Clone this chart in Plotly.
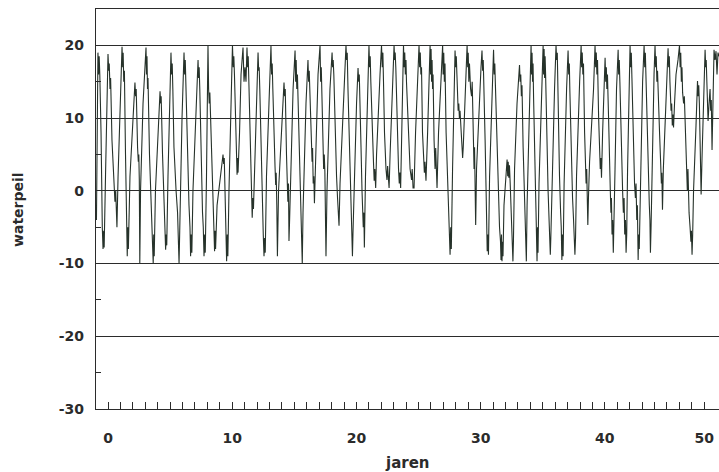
import plotly.graph_objects as go

# Water level (waterpeil) readings over the years (jaren).
jaren = [
    -0.93, -0.86, -0.81, -0.76, -0.71, -0.66, -0.56, -0.46, -0.40, -0.35, -0.31, -0.20,
    -0.08, 0.00, 0.06, 0.10, 0.16, 0.21, 0.32, 0.48, 0.56, 0.62, 0.72, 0.81,
    1.01, 1.13, 1.18, 1.22, 1.27, 1.32, 1.41, 1.49, 1.55, 1.59, 1.64, 1.77,
    2.01, 2.17, 2.22, 2.27, 2.38, 2.44, 2.48, 2.52, 2.56, 2.62,
    2.82, 2.98, 3.06, 3.10, 3.14, 3.18, 3.22, 3.34, 3.46, 3.54, 3.59, 3.64, 3.68, 3.72, 3.82,
    4.03, 4.19, 4.24, 4.28, 4.39, 4.51, 4.59, 4.64, 4.69, 4.73, 4.83,
    4.99, 5.07, 5.12, 5.17, 5.22, 5.31, 5.48, 5.60, 5.72, 5.80,
    5.96, 6.12, 6.17, 6.22, 6.26, 6.36, 6.52, 6.60, 6.65, 6.70, 6.75, 6.84,
    7.09, 7.25, 7.29, 7.34, 7.39, 7.49, 7.61, 7.67, 7.73, 7.78, 7.83, 7.93,
    8.05, 8.10, 8.15, 8.20, 8.25, 8.37, 8.49, 8.58, 8.62, 8.66, 8.78,
    9.02, 9.18, 9.26, 9.31, 9.36, 9.42, 9.50, 9.55, 9.60, 9.65, 9.74,
    9.90, 10.02, 10.08, 10.13, 10.18, 10.27, 10.35, 10.39, 10.43, 10.47, 10.59,
    10.71, 10.87, 10.95, 11.03, 11.11, 11.19, 11.24, 11.29, 11.34, 11.43, 11.51, 11.56, 11.61, 11.66, 11.71, 11.84,
    12.00, 12.08, 12.13, 12.17, 12.22, 12.32, 12.44, 12.50, 12.56, 12.61, 12.66, 12.76,
    12.96, 13.12, 13.17, 13.22, 13.27, 13.37, 13.45, 13.50, 13.54, 13.59, 13.64, 13.73,
    14.01, 14.17, 14.22, 14.27, 14.37, 14.43, 14.48, 14.53, 14.57, 14.62, 14.69,
    14.90, 15.06, 15.11, 15.15, 15.20, 15.25, 15.38, 15.50, 15.58, 15.64, 15.70,
    15.94, 16.10, 16.15, 16.20, 16.25, 16.34, 16.43, 16.47, 16.52, 16.57, 16.62, 16.71,
    16.91, 17.07, 17.12, 17.17, 17.21, 17.31, 17.36, 17.41, 17.46, 17.55, 17.63,
    17.87, 18.04, 18.08, 18.13, 18.18, 18.28, 18.40, 18.48, 18.54, 18.60, 18.68,
    19.00, 19.16, 19.21, 19.26, 19.32, 19.45, 19.53, 19.59, 19.63, 19.68, 19.72, 19.81,
    20.01, 20.13, 20.18, 20.23, 20.27, 20.37, 20.45, 20.50, 20.55, 20.60, 20.64, 20.73,
    20.89, 21.01, 21.06, 21.11, 21.16, 21.26, 21.38, 21.43, 21.48, 21.55, 21.62,
    21.90, 22.02, 22.08, 22.13, 22.18, 22.26, 22.38, 22.46, 22.51, 22.57, 22.63, 22.71,
    22.91, 23.03, 23.08, 23.12, 23.17, 23.27, 23.39, 23.45, 23.50, 23.56, 23.67,
    23.79, 23.84, 23.89, 23.94, 23.99, 24.03, 24.16, 24.32, 24.44, 24.49, 24.56, 24.64, 24.76,
    24.96, 25.04, 25.09, 25.14, 25.19, 25.24, 25.32, 25.40, 25.47, 25.52, 25.60, 25.73,
    25.85, 25.93, 25.97, 26.01, 26.05, 26.09, 26.13, 26.17, 26.25, 26.33, 26.38, 26.43, 26.49, 26.61,
    26.81, 26.94, 26.98, 27.03, 27.08, 27.13, 27.22, 27.34, 27.42, 27.48, 27.54, 27.59, 27.64, 27.74,
    27.86, 27.94, 27.99, 28.04, 28.09, 28.14, 28.19, 28.24, 28.29, 28.34, 28.42, 28.50, 28.55, 28.60, 28.71,
    28.83, 28.91, 28.96, 29.00, 29.05, 29.10, 29.19, 29.27, 29.32, 29.37, 29.43, 29.47, 29.51, 29.55, 29.60, 29.67,
    29.87, 30.03, 30.11, 30.16, 30.21, 30.26, 30.36, 30.44, 30.48, 30.53, 30.58, 30.63, 30.72,
    30.92, 31.04, 31.09, 31.14, 31.19, 31.28, 31.40, 31.52, 31.60, 31.64, 31.68, 31.72, 31.76, 31.80, 31.88,
    32.01, 32.13, 32.18, 32.22, 32.27, 32.32, 32.38, 32.45, 32.50, 32.55, 32.60, 32.64, 32.73,
    32.93, 33.13, 33.18, 33.23, 33.28, 33.33, 33.42, 33.54, 33.62, 33.68, 33.74,
    33.94, 34.06, 34.10, 34.14, 34.18, 34.22, 34.26, 34.32, 34.42, 34.46, 34.50, 34.54, 34.58, 34.62, 34.70,
    34.91, 35.03, 35.07, 35.11, 35.15, 35.19, 35.23, 35.31, 35.43, 35.51, 35.56, 35.61, 35.65, 35.75,
    35.95, 36.07, 36.12, 36.17, 36.23, 36.35, 36.44, 36.49, 36.54, 36.59, 36.64, 36.72,
    36.92, 37.04, 37.09, 37.14, 37.18, 37.28, 37.40, 37.48, 37.54, 37.59, 37.64, 37.72,
    37.97, 38.09, 38.13, 38.18, 38.23, 38.28, 38.37, 38.49, 38.54, 38.59, 38.63, 38.68, 38.77,
    39.09, 39.21, 39.26, 39.31, 39.36, 39.41, 39.50, 39.58, 39.63, 39.68, 39.73, 39.82,
    39.94, 40.02, 40.07, 40.12, 40.16, 40.21, 40.30, 40.38, 40.44, 40.49, 40.53, 40.58, 40.63, 40.68, 40.73, 40.82,
    40.94, 41.07, 41.11, 41.16, 41.21, 41.31, 41.43, 41.49, 41.55, 41.60, 41.66, 41.71, 41.76, 41.83,
    41.95, 42.03, 42.08, 42.13, 42.18, 42.27, 42.39, 42.46, 42.51, 42.57, 42.62, 42.68, 42.72, 42.77, 42.88,
    43.04, 43.16, 43.21, 43.26, 43.30, 43.40, 43.52, 43.58, 43.63, 43.67, 43.72, 43.80,
    43.96, 44.04, 44.09, 44.14, 44.19, 44.24, 44.33, 44.41, 44.49, 44.55, 44.59, 44.64, 44.71,
    44.97, 45.09, 45.14, 45.19, 45.24, 45.33, 45.38, 45.43, 45.48, 45.53, 45.61,
    45.73, 45.89, 46.01, 46.06, 46.11, 46.16, 46.21, 46.26, 46.34, 46.40, 46.50, 46.58, 46.64, 46.69, 46.73, 46.78, 46.86, 46.93, 46.97, 47.02, 47.07, 47.14,
    47.34, 47.46, 47.51, 47.56, 47.61, 47.67, 47.75, 47.83,
    47.95, 48.07, 48.12, 48.16, 48.23, 48.31, 48.39, 48.47, 48.52, 48.57, 48.63, 48.71, 48.79, 48.87, 48.95, 49.03, 49.11, 49.18,
]

waterpeil = [
    -4, 17, 19, 16, 18.5, 16, 8, -5, -8, -5.5, -7.8, 2,
    15, 18.8, 16.5, 17.5, 14, 15.5, 7, 0, -1.5, 0, -5, 2,
    13, 19.8, 17, 19, 15, 16.5, 5, -4, -9, -5, -8, 2,
    10, 14.9, 13, 14, 6, 4, 5, 1.5, -10, 0,
    12, 17, 19.7, 16, 18.5, 14, 15.5, 5, -1, -4, -8, -10, -6, -9, 0,
    9, 13.7, 12, 13, 5, -2, -5, -8.1, -6, -7.5, 2,
    14, 19, 16, 17.5, 14, 6, 0, -3, -10, -2,
    10, 19, 16, 18, 15, 6, -2, -5, -9, -6, -8.5, 0,
    12, 18, 15.5, 17, 14, 5, -3, -5, -9, -6, -8.5, 2,
    20, 14, 12, 13.5, 11, 3, -4, -8.3, -5.5, -8, -2,
    2, 4, 5, 3.7, 4.5, 0, -6, -9.7, -6, -9, 0,
    14, 20, 17, 18.5, 16, 8, 4, 2.2, 4.5, 2.5, 8,
    16, 19.7, 15, 17, 15, 19.7, 17, 18.5, 15, 6, 0, -2, -3.7, -1, -2.5, 5,
    14, 19, 16.5, 17, 14, 5, -3, -6, -9, -6.5, -8.5, 2,
    12, 19.9, 16, 17.5, 14, 6, 3.2, 0.8, 2.5, -2, -9, 0,
    10, 14.9, 13, 14, 5, 1.8, -1.5, 1, -6.9, -4, 1,
    14, 19.3, 15, 18, 14, 16, 6, -2, -6, -10, -3,
    12, 18, 15, 16.5, 14, 8, 4, 5.9, 1, 2, -1.7, 5,
    16, 20, 15, 17, 14.5, 6, 3, 5, 2.7, -9, 0,
    14, 19, 17, 18, 16, 8, 2, -1, -3, -4.8, 1,
    15, 20, 18, 19, 14, 5, -2, -5, -7.5, -9, -6, 1,
    12, 16.9, 15, 16, 13.9, 6, 0, -2, -5, -3, -7.8, 2,
    14, 20, 17, 18.5, 15, 8, 3.6, 1.4, 3, 0.4, 5,
    16, 20, 17, 19, 15, 8, 3, 1.5, 3.4, 0.8, 0.4, 5,
    16, 20, 18, 19, 17, 9, 3, 1, 2.5, 0.4, 10,
    20, 17, 19, 16, 18, 15, 9, 3, 1.5, 3, 0.4, 0.4, 8,
    17, 20, 17, 19, 16, 17, 8, 5, 2.5, 4, 1.4, 8,
    16, 20, 16, 19.5, 15, 18, 14, 16, 7, 3, 5.9, 2, 0.4, 8,
    16, 20, 16, 19, 15, 17.5, 8, 1, -3, -6, -8.8, -5, -8, 3,
    15, 19.3, 17, 18.5, 16, 12.4, 11, 12, 10, 11, 8, 5.5, 4.5, 6, 12,
    17, 20, 17, 19, 15, 17.5, 14, 13, 15, 12, 7, 3, 6, 2, -4.7, 3,
    12, 17, 19.3, 16.5, 18, 15, 7, 0, -4, -8.3, -6, -8.8, 2,
    15, 19.4, 16, 17.5, 14.5, 8, 0, -5, -7, -9.5, -6, -9.7, -7, -9, -2,
    2, 4.3, 2, 4, 1.8, 3.5, 1, -3, -6, -8, -9.7, -7, 3,
    12, 17.3, 15, 16, 13, 14.5, 6, -1, -5, -9.7, -2,
    14, 20, 16, 19, 15, 17.5, 13, 6, 0, -3, -6, -9.7, -5, -8.5, 1,
    15, 20, 16, 19.5, 15.5, 18.5, 16, 8, 0, -4, -6, -8.8, -6.5, 2,
    14, 20, 18, 19, 12, 2, -3, -5, -9.5, -6, -9, 1,
    14, 19.3, 16, 17.5, 14, 6, -1, -4, -6, -8.8, -6.5, 2,
    15, 20, 17, 19, 16, 17.5, 8, 1, 3, -1, -4.7, -1, 4,
    14, 20, 17, 19, 16, 18, 10, 5, 3, 4.5, 1.8, 8,
    15, 18.3, 15, 17, 14, 16, 10, 6, 0, -3, -1, -6, -4, -8.5, -5, 3,
    14, 19.4, 16, 18, 15, 6, 0, -3, -1, -6, -4, -8.5, -6, 3,
    15, 20, 17, 19, 15.5, 8, 1, -1, 1, -4, -2, -9.5, -6, -8, 3,
    15, 20, 17, 19, 16, 8, 1, -2, -4, -8.5, -5, 3,
    16, 20, 17, 18.5, 15, 16.5, 10, 7.7, 4, 1, 2.5, -2.6, 3,
    14, 19.6, 17, 18.5, 15, 11, 12, 9, 10.5, 8.7, 12,
    16, 18, 20, 17, 19, 15, 17, 13.5, 12, 13, 8, 4, 0, 3, -0.5, -3, -5, -7, -5.5, -8.8, -6, 0,
    9, 15.1, 13, 14.5, 12, 7, -0.5, 5,
    14, 19.4, 17, 18, 14, 9.6, 12, 14, 11, 12.5, 5.6, 12, 19.4, 18, 19.2, 16, 19, 18.5,
]

assert len(jaren) == len(waterpeil), (len(jaren), len(waterpeil))

# Axis scales
x_range = [-0.966, 49.19]
y_range = [-30, 25]
y_tick_values = [-30, -20, -10, 0, 10, 20]
y_tick_labels = ["-30", "-20", "-10", "0", "10", "20"]
y_minor_values = [-25, -15, -5, 5, 15]
x_tick_values = list(range(0, 49))
# year labels as printed beneath the yearly tick marks
x_label_at = {0: "0", 10: "10", 20: "20", 30: "30", 40: "40", 48: "50"}

INK = "#2b2b2b"
LINE = "#26322a"
FONT = "DejaVu Sans"

fig = go.Figure()
fig.add_trace(go.Scatter(
    x=jaren, y=waterpeil, mode="lines",
    line=dict(color=LINE, width=1.1),
    hoverinfo="skip", showlegend=False,
))

fig.update_layout(
    width=719, height=472,
    margin=dict(l=96, r=0, t=9, b=63),
    paper_bgcolor="white", plot_bgcolor="white",
    font=dict(family=FONT, size=14, color=INK),
    xaxis=dict(
        range=x_range, showgrid=False, zeroline=False,
        showline=True, linecolor=INK, linewidth=1.3, mirror=True,
        tickmode="array", tickvals=x_tick_values,
        ticktext=[x_label_at.get(v, "") for v in x_tick_values],
        ticks="inside", ticklen=7, tickwidth=1, tickcolor=INK,
        ticklabelstandoff=16,
        tickfont=dict(family=FONT, size=14, color=INK, weight="bold"),
    ),
    yaxis=dict(
        range=y_range, zeroline=False,
        showgrid=True, gridcolor=INK, gridwidth=1.2,
        showline=True, linecolor=INK, linewidth=1.3,
        tickmode="array", tickvals=y_tick_values, ticktext=y_tick_labels,
        ticks="inside", ticklen=5, tickcolor=INK,
        ticklabelstandoff=8,
        tickfont=dict(family=FONT, size=14, color=INK, weight="bold"),
        minor=dict(tickvals=y_minor_values, ticks="inside", ticklen=5,
                   tickcolor=INK, showgrid=False),
    ),
    annotations=[
        dict(text="waterpeil", xref="paper", yref="paper",
             x=-78 / 623, y=0.5, xanchor="center", yanchor="middle",
             textangle=-90, showarrow=False,
             font=dict(family=FONT, size=14, color=INK, weight="bold")),
        dict(text="jaren", xref="paper", yref="paper",
             x=0.5, y=0, xanchor="center", yanchor="middle", yshift=-54,
             showarrow=False,
             font=dict(family=FONT, size=15, color=INK, weight="bold")),
    ],
)

fig.write_html("out.html")
